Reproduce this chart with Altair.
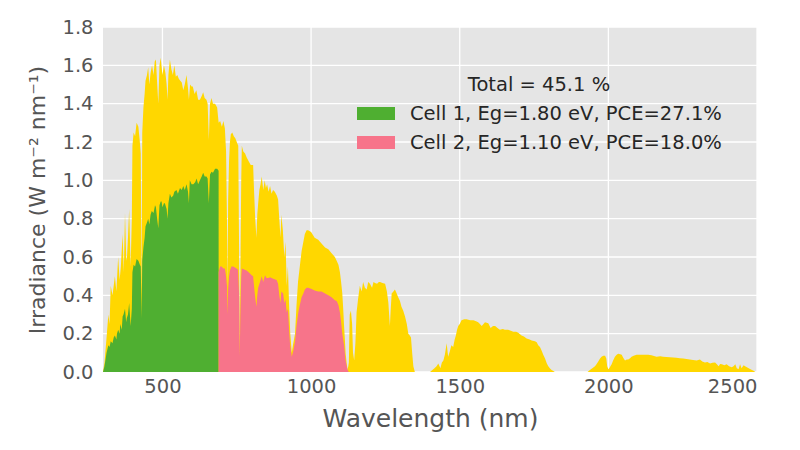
import altair as alt
import pandas as pd

# ---- Full AM1.5 spectrum (yellow) ----
sun_wl = [300, 305, 312, 318, 322, 326, 332, 340, 345, 351, 356, 360, 366, 370, 374, 378, 380, 384, 388, 393, 397,
          399, 403, 408, 413, 419, 424, 427, 430, 432, 436, 440, 443, 448, 452, 456, 460, 465, 470, 474, 478, 482, 486,
          490, 494, 500, 505, 510, 514, 517, 520, 525, 530, 535, 540, 545, 550, 555, 560, 565, 570, 575, 581, 586, 589,
          593, 598, 602, 608, 614, 620, 626, 632, 637, 642, 648, 652, 656, 660, 665, 670, 677, 684, 689, 694, 700, 705,
          710, 714, 717, 719, 721, 724, 727, 730, 735, 740, 745, 750, 755, 758, 760, 762, 765, 767, 772, 778, 783, 790,
          797, 805, 808, 812, 816, 819, 822, 826, 830, 834, 839, 844, 848, 852, 857, 862, 867, 872, 878, 885, 889, 893,
          897, 900, 905, 910, 914, 918, 922, 926, 930, 935, 940, 946, 951, 956, 962, 968, 974, 979, 985, 990, 1000,
          1012, 1024, 1035, 1047, 1058, 1069, 1080, 1086, 1092, 1097, 1101, 1105, 1108, 1111, 1114, 1116, 1120, 1123,
          1127, 1130, 1134, 1138, 1141, 1145, 1149, 1153, 1158, 1164, 1170, 1175, 1181, 1187, 1192, 1198, 1205, 1210,
          1215, 1222, 1228, 1232, 1240, 1249, 1255, 1260, 1265, 1268, 1271, 1277, 1282, 1288, 1293, 1299, 1304, 1310,
          1316, 1322, 1327, 1332, 1336, 1340, 1344, 1349, 1400, 1408, 1415, 1422, 1428, 1435, 1440, 1445, 1450, 1456,
          1461, 1467, 1472, 1478, 1483, 1487, 1491, 1495, 1500, 1506, 1515, 1523, 1535, 1546, 1555, 1562, 1568, 1574,
          1580, 1585, 1596, 1604, 1612, 1619, 1627, 1635, 1645, 1652, 1663, 1672, 1680, 1690, 1697, 1708, 1716, 1725,
          1735, 1742, 1753, 1759, 1764, 1770, 1776, 1781, 1787, 1793, 1798, 1803, 1809, 1815, 1820, 1930, 1938, 1946,
          1955, 1960, 1966, 1972, 1977, 1983, 1989, 1993, 1996, 2000, 2003, 2007, 2011, 2016, 2022, 2028, 2033, 2040,
          2045, 2050, 2056, 2062, 2067, 2073, 2078, 2085, 2095, 2105, 2118, 2134, 2145, 2162, 2175, 2184, 2195, 2207,
          2218, 2229, 2240, 2252, 2263, 2274, 2285, 2297, 2308, 2316, 2325, 2333, 2342, 2350, 2359, 2365, 2371, 2376,
          2382, 2390, 2398, 2406, 2415, 2421, 2427, 2432, 2438, 2443, 2448, 2455, 2460, 2466, 2472, 2478, 2483, 2490,
          2494, 2500]
sun_irr = [0.0, 0.05, 0.18, 0.30, 0.25, 0.45, 0.40, 0.50, 0.42, 0.60, 0.48, 0.55, 0.72, 0.52, 0.83, 0.60, 0.58, 0.70,
           0.85, 0.55, 0.80, 1.18, 1.25, 1.23, 1.30, 1.28, 1.20, 1.14, 0.40, 1.25, 1.38, 1.45, 1.52, 1.55, 1.59, 1.50,
           1.56, 1.60, 1.55, 1.62, 1.63, 1.51, 1.40, 1.60, 1.64, 1.55, 1.60, 1.56, 1.50, 1.42, 1.55, 1.63, 1.58, 1.55,
           1.60, 1.54, 1.55, 1.53, 1.52, 1.51, 1.47, 1.50, 1.55, 1.48, 1.42, 1.50, 1.49, 1.49, 1.45, 1.47, 1.42, 1.42,
           1.44, 1.46, 1.43, 1.42, 1.40, 1.21, 1.40, 1.43, 1.40, 1.40, 1.38, 1.30, 1.31, 1.28, 1.31, 1.27, 1.15, 0.80,
           0.44, 0.90, 1.10, 1.20, 1.24, 1.25, 1.23, 1.22, 1.20, 1.18, 0.60, 0.10, 0.50, 1.00, 1.18, 1.15, 1.14, 1.12,
           1.10, 1.08, 1.08, 0.95, 0.80, 0.70, 0.82, 0.88, 0.95, 0.98, 1.02, 0.95, 1.00, 0.96, 0.98, 0.94, 0.97, 0.93,
           0.95, 0.94, 0.92, 0.90, 0.80, 0.70, 0.82, 0.74, 0.60, 0.68, 0.45, 0.55, 0.35, 0.20, 0.10, 0.15, 0.20, 0.35,
           0.47, 0.55, 0.63, 0.68, 0.72, 0.74, 0.74, 0.73, 0.70, 0.69, 0.67, 0.65, 0.64, 0.62, 0.60, 0.58, 0.56, 0.52,
           0.47, 0.41, 0.33, 0.24, 0.16, 0.10, 0.04, 0.01, 0.05, 0.30, 0.32, 0.25, 0.10, 0.06, 0.15, 0.31, 0.38, 0.45,
           0.42, 0.47, 0.44, 0.43, 0.47, 0.46, 0.44, 0.47, 0.465, 0.46, 0.47, 0.47, 0.465, 0.46, 0.42, 0.36, 0.24,
           0.33, 0.41, 0.42, 0.43, 0.41, 0.39, 0.37, 0.34, 0.32, 0.29, 0.25, 0.20, 0.19, 0.18, 0.10, 0.03, 0.0, 0.0,
           0.01, 0.02, 0.03, 0.045, 0.02, 0.05, 0.06, 0.09, 0.15, 0.08, 0.11, 0.14, 0.13, 0.17, 0.19, 0.22, 0.24, 0.25,
           0.27, 0.275, 0.275, 0.27, 0.27, 0.265, 0.26, 0.25, 0.24, 0.25, 0.26, 0.255, 0.23, 0.24, 0.24, 0.23, 0.22,
           0.225, 0.22, 0.22, 0.215, 0.21, 0.21, 0.205, 0.19, 0.185, 0.175, 0.17, 0.165, 0.16, 0.155, 0.14, 0.13, 0.11,
           0.09, 0.07, 0.045, 0.03, 0.02, 0.01, 0.005, 0.0, 0.0, 0.01, 0.02, 0.03, 0.04, 0.055, 0.07, 0.08, 0.085,
           0.085, 0.07, 0.03, 0.015, 0.02, 0.03, 0.04, 0.06, 0.08, 0.09, 0.095, 0.093, 0.09, 0.075, 0.06, 0.065, 0.065,
           0.072, 0.08, 0.085, 0.09, 0.09, 0.09, 0.09, 0.088, 0.08, 0.082, 0.08, 0.078, 0.077, 0.076, 0.075, 0.072,
           0.07, 0.068, 0.065, 0.062, 0.06, 0.065, 0.055, 0.05, 0.052, 0.045, 0.048, 0.05, 0.04, 0.03, 0.042, 0.04,
           0.035, 0.04, 0.03, 0.025, 0.03, 0.04, 0.02, 0.015, 0.04, 0.02, 0.035, 0.03, 0.025, 0.02, 0.015, 0.01, 0.005,
           0.0, 0.0]

# ---- Cell 1 (green) ----
c1_wl = [300, 305, 312, 318, 322, 326, 332, 336, 340, 345, 347, 351, 356, 358, 363, 366, 369, 374, 378, 380, 384, 388,
         393, 397, 399, 403, 408, 413, 419, 424, 427, 430, 432, 436, 440, 443, 448, 452, 456, 460, 464, 470, 475, 478,
         482, 486, 490, 494, 497, 500, 505, 508, 514, 517, 520, 525, 530, 536, 540, 547, 552, 559, 565, 570, 575, 581,
         586, 589, 592, 598, 604, 610, 615, 620, 626, 632, 637, 642, 648, 652, 656, 660, 665, 670, 677, 684, 688.9]
c1_irr = [0.0, 0.03, 0.10, 0.14, 0.13, 0.16, 0.15, 0.18, 0.19, 0.17, 0.20, 0.22, 0.20, 0.25, 0.22, 0.29, 0.30, 0.33,
          0.26, 0.28, 0.30, 0.36, 0.24, 0.33, 0.52, 0.56, 0.55, 0.59, 0.58, 0.56, 0.55, 0.28, 0.58, 0.65, 0.70, 0.76,
          0.78, 0.80, 0.77, 0.82, 0.84, 0.83, 0.87, 0.86, 0.80, 0.75, 0.87, 0.89, 0.89, 0.86, 0.88, 0.88, 0.85, 0.80,
          0.88, 0.93, 0.91, 0.92, 0.94, 0.95, 0.93, 0.96, 0.95, 0.97, 0.95, 0.98, 0.94, 0.88, 1.00, 0.98, 0.98, 0.99,
          1.01, 0.98, 1.00, 1.02, 1.04, 1.02, 1.02, 1.01, 0.88, 1.03, 1.045, 1.04, 1.06, 1.06, 1.05]

# ---- Cell 2 (pink) ----
c2_wl = [688.9, 694, 699, 705, 710, 714, 717, 719, 721, 724, 727, 732, 738, 744, 749, 754, 758, 760, 762, 765, 767,
         775, 783, 790, 800, 805, 808, 812, 816, 819, 822, 828, 834, 839, 845, 850, 856, 862, 867, 875, 884, 889, 893,
         897, 900, 906, 910, 914, 918, 922, 926, 929, 935, 940, 946, 951, 957, 962, 968, 974, 979, 985, 990, 1000,
         1012, 1024, 1035, 1047, 1058, 1069, 1080, 1086, 1092, 1097, 1101, 1105, 1108, 1111, 1114, 1116, 1120, 1123,
         1127]
c2_irr = [0.52, 0.55, 0.55, 0.54, 0.54, 0.50, 0.45, 0.30, 0.43, 0.50, 0.53, 0.55, 0.55, 0.545, 0.54, 0.535, 0.40,
          0.08, 0.30, 0.50, 0.54, 0.535, 0.53, 0.52, 0.505, 0.50, 0.45, 0.39, 0.34, 0.40, 0.44, 0.47, 0.50, 0.47, 0.505,
          0.49, 0.49, 0.495, 0.49, 0.485, 0.48, 0.46, 0.40, 0.36, 0.42, 0.41, 0.36, 0.38, 0.31, 0.33, 0.22, 0.15, 0.08,
          0.11, 0.16, 0.24, 0.31, 0.35, 0.39, 0.41, 0.43, 0.44, 0.44, 0.435, 0.425, 0.42, 0.42, 0.41, 0.40, 0.39, 0.375,
          0.37, 0.35, 0.31, 0.26, 0.20, 0.17, 0.14, 0.09, 0.06, 0.03, 0.01, 0.0]

legend_title = "Total = 45.1 %"
cell_labels = ["Cell 1, Eg=1.80 eV, PCE=27.1%", "Cell 2, Eg=1.10 eV, PCE=18.0%"]
cell_colors = ["#4FAF31", "#F7748A"]
y_ticks = [0.0, 0.2, 0.4, 0.6, 0.8, 1.0, 1.2, 1.4, 1.6, 1.8]
x_ticks = [500, 1000, 1500, 2000, 2500]

sun_df = pd.DataFrame({"wl": sun_wl, "irr": sun_irr})
cell_df = pd.concat([
    pd.DataFrame({"wl": c1_wl, "irr": c1_irr, "cell": cell_labels[0]}),
    pd.DataFrame({"wl": c2_wl, "irr": c2_irr, "cell": cell_labels[1]}),
])

FONT = "DejaVu Sans"
XSCALE = alt.Scale(domain=[300, 2500], nice=False, zero=False)
YSCALE = alt.Scale(domain=[0, 1.8], nice=False)
XAXIS = alt.Axis(values=x_ticks, title="Wavelength (nm)", format="d", grid=False,
                 titleFontSize=25, labelFontSize=19.5)
YAXIS = alt.Axis(values=y_ticks, format=".1f", grid=False,
                 title="Irradiance  (W m\u207b\u00b2 nm\u207b\u00b9)",
                 titleFontSize=22, labelFontSize=19.5)

xenc = alt.X("wl:Q", scale=XSCALE, axis=XAXIS)
yenc = alt.Y("irr:Q", scale=YSCALE, stack=None, axis=YAXIS)

# grid lines drawn underneath the spectra
hgrid = alt.Chart(pd.DataFrame({"g": y_ticks})).mark_rule(color="#FFFFFF", strokeWidth=1.3).encode(
    y=alt.Y("g:Q", scale=YSCALE, axis=YAXIS))
vgrid = alt.Chart(pd.DataFrame({"g": x_ticks})).mark_rule(color="#FFFFFF", strokeWidth=1.3).encode(
    x=alt.X("g:Q", scale=XSCALE, axis=XAXIS))

sun = alt.Chart(sun_df).mark_area(color="#FFD700", interpolate="linear", opacity=1, fillOpacity=1).encode(
    x=xenc, y=yenc)

cells = alt.Chart(cell_df).mark_area(interpolate="linear", opacity=1, fillOpacity=1).encode(
    x=xenc, y=yenc,
    color=alt.Color("cell:N", scale=alt.Scale(domain=cell_labels, range=cell_colors),
                    legend=alt.Legend(
                        title=legend_title, orient="none", legendX=254, legendY=49,
                        symbolType="M-1,-0.342H1V0.342H-1Z", symbolSize=1444, symbolStrokeWidth=0,
                        symbolOpacity=1, labelFontSize=19.5, titleFontSize=19.5, titleFontWeight="normal",
                        titleAnchor="middle", titleAlign="center", labelColor="#262626", titleColor="#262626",
                        labelOffset=15, rowPadding=-1, titlePadding=-1, labelFont=FONT, titleFont=FONT,
                        labelLimit=500, padding=0)),
)

chart = alt.layer(hgrid, vgrid, sun, cells).properties(
    width=654, height=345,
    autosize=alt.AutoSizeParams(type="none"),
    padding={"left": 95, "top": 19, "right": 35, "bottom": 66},
).configure_view(
    fill="#E5E5E5", stroke=None
).configure_axis(
    domain=False, ticks=False, tickSize=0,
    labelFont=FONT, labelColor="#555555",
    titleFont=FONT, titleColor="#555555", titleFontWeight="normal",
).configure_axisX(
    labelPadding=5, titlePadding=11, titleFontSize=25
).configure_axisY(
    labelPadding=10, titlePadding=12, titleFontSize=22
)

chart.save("out.html", embed_options={"renderer": "svg", "actions": False})
